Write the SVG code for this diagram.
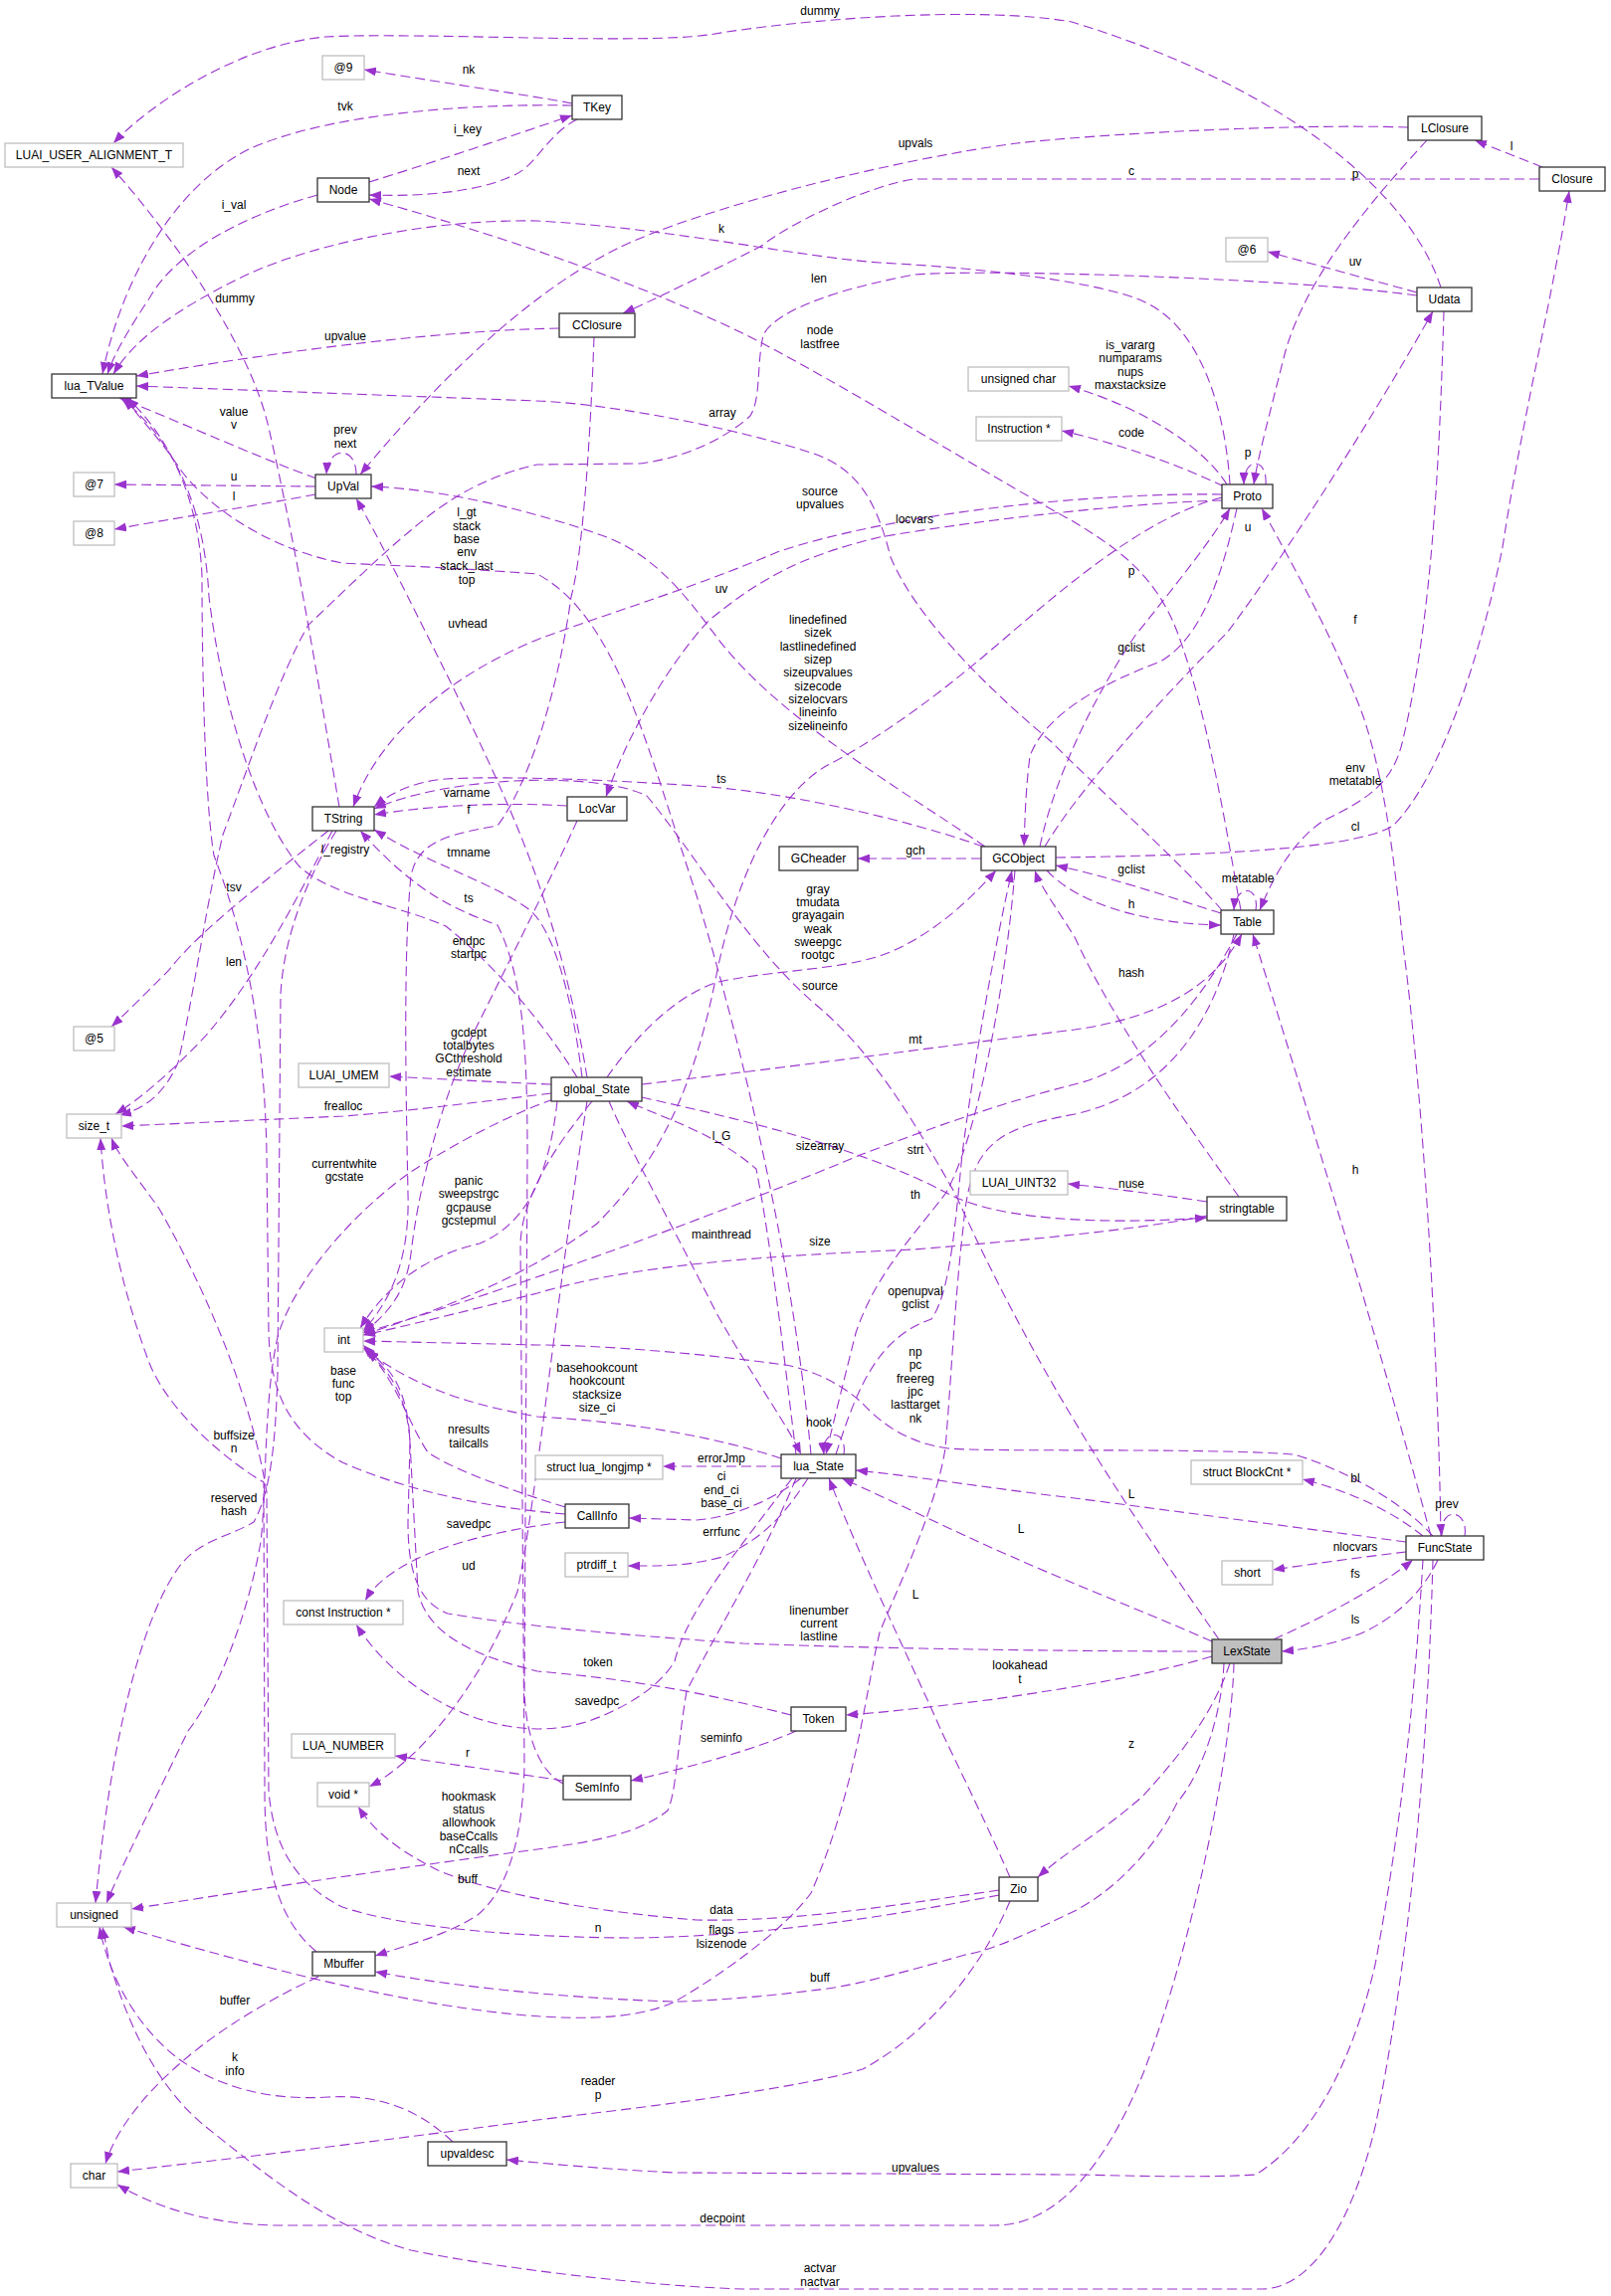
<svg xmlns="http://www.w3.org/2000/svg" width="1619" height="2308" viewBox="0 0 1619 2308">
<style>
.e{fill:none;stroke:#9a32cd;stroke-width:1.1;stroke-dasharray:10,5;marker-end:url(#a)}
.lb{font-family:"Liberation Sans",Arial,sans-serif;font-size:12px;fill:#000;text-anchor:middle}
.d{fill:#fff;stroke:#333;stroke-width:1.3}
.u{fill:#fff;stroke:#bfbfbf;stroke-width:1.3}
.r{fill:#bfbfbf;stroke:#333;stroke-width:1.3}
.t{font-family:"Liberation Sans",Arial,sans-serif;font-size:12px;fill:#000;text-anchor:middle}
</style>
<defs>
<marker id="a" viewBox="0 0 12 9" refX="12" refY="4.5" markerWidth="12" markerHeight="9" markerUnits="userSpaceOnUse" orient="auto"><path d="M0,0L12,4.5L0,9z" fill="#9a32cd"/></marker>
</defs>
<rect width="1619" height="2308" fill="#fff"/>
<g id="edges">
<path class="e" d="M1448,289 C1420,200 1300,90 1077,22 C980,5 800,20 712,35 C640,45 420,32 327,37 C240,45 150,105 114,144"/>
<path class="e" d="M341,811 C322,700 300,560 270,430 C252,350 180,245 112,168"/>
<path class="e" d="M575,104 C540,97 450,84 366,70"/>
<path class="e" d="M575,106 C470,104 330,114 250,150 C170,190 120,290 103,376"/>
<path class="e" d="M371,183 C430,165 510,138 575,116"/>
<path class="e" d="M580,120 C548,136 538,170 512,178 C480,192 430,198 371,196"/>
<path class="e" d="M319,196 C240,218 175,255 150,300 C130,330 115,355 108,376"/>
<path class="e" d="M1247,915 C1235,850 1215,720 1183,635 C1160,575 1120,550 1080,525 C980,470 870,400 764,344 C650,285 480,230 371,200"/>
<path class="e" d="M1236,487 C1232,420 1210,330 1149,303 C1110,285 1000,270 884,264 C800,258 680,230 540,222 C420,220 300,250 240,280 C180,310 135,340 114,376"/>
<path class="e" d="M1228,915 C1180,860 1100,790 1057,746 C990,690 920,620 895,560 C880,500 860,470 815,455 C720,425 600,405 540,403 L137,388"/>
<path class="e" d="M562,330 C450,332 300,350 137,378"/>
<path class="e" d="M318,481 C260,460 190,428 120,400"/>
<path class="e" d="M358,477 C358,448 330,448 328,477"/>
<path class="e" d="M317,489 L115,487"/>
<path class="e" d="M317,497 C260,508 180,520 115,532"/>
<path class="e" d="M1415,128 C1300,124 1100,135 1022,144 C900,160 700,210 620,250 C540,290 450,370 362,477"/>
<path class="e" d="M1547,180 L919,180 C880,185 800,220 764,248 C700,280 660,300 626,315"/>
<path class="e" d="M1550,168 L1482,141"/>
<path class="e" d="M1434,141 C1380,200 1310,280 1290,360 C1275,420 1264,460 1260,487"/>
<path class="e" d="M1424,294 L1274,253"/>
<path class="e" d="M1451,313 C1447,450 1440,620 1410,743 C1400,790 1370,805 1330,825 C1300,845 1280,880 1266,915"/>
<path class="e" d="M1061,862 C1200,860 1360,855 1400,830 C1450,780 1490,650 1510,550 C1530,420 1560,300 1577,192"/>
<path class="e" d="M1052,875 C1080,905 1140,928 1227,930"/>
<path class="e" d="M1227,918 C1170,900 1110,880 1061,870"/>
<path class="e" d="M1262,915 C1266,890 1242,888 1240,915"/>
<path class="e" d="M986,863 L862,863"/>
<path class="e" d="M988,851 C900,820 780,795 700,790 C600,783 500,780 448,783 C420,785 395,795 376,811"/>
<path class="e" d="M570,810 C500,806 430,810 376,819"/>
<path class="e" d="M597,339 C593,450 585,560 574,600 C560,700 530,790 500,830 C440,840 420,850 413,880 C405,960 408,1100 410,1200 C412,1270 390,1310 365,1338"/>
<path class="e" d="M1228,503 C1150,505 1000,520 884,540 C800,560 760,585 712,624 C670,670 630,740 609,801"/>
<path class="e" d="M1228,500 C1150,520 1070,590 1000,650 C930,710 870,750 830,770 C780,800 740,880 720,980 C700,1080 670,1160 600,1230 C520,1290 430,1320 365,1342"/>
<path class="e" d="M1230,489 C1180,465 1120,445 1067,433"/>
<path class="e" d="M1233,487 C1210,450 1150,410 1074,388"/>
<path class="e" d="M1272,487 C1274,460 1250,458 1250,487"/>
<path class="e" d="M1045,851 C1060,780 1100,700 1140,640 C1180,590 1220,540 1236,511"/>
<path class="e" d="M1243,511 C1230,570 1210,640 1166,665 C1100,690 1050,720 1035,760 C1030,800 1030,830 1029,851"/>
<path class="e" d="M1050,851 C1080,800 1150,720 1234,635 C1290,560 1380,420 1440,313"/>
<path class="e" d="M1448,1544 C1445,1350 1430,1100 1410,950 C1400,850 1390,780 1370,720 C1340,640 1300,570 1268,511"/>
<path class="e" d="M1438,1544 C1410,1440 1370,1300 1330,1170 C1300,1070 1275,990 1259,939"/>
<path class="e" d="M1245,1203 C1200,1140 1120,1030 1080,942 C1060,910 1045,890 1040,875"/>
<path class="e" d="M1213,1208 C1160,1200 1120,1195 1073,1190"/>
<path class="e" d="M1213,1222 C1150,1235 1050,1245 919,1256 C780,1262 640,1270 540,1300 C460,1320 400,1335 365,1342"/>
<path class="e" d="M645,1103 C720,1120 860,1150 953,1200 C1000,1225 1100,1232 1213,1224"/>
<path class="e" d="M1243,939 C1210,1000 1160,1070 1080,1090 C1000,1110 920,1140 867,1160 C700,1230 500,1300 365,1340"/>
<path class="e" d="M645,1090 C800,1072 1000,1045 1080,1035 C1170,1022 1220,990 1248,939"/>
<path class="e" d="M1240,939 C1220,1030 1170,1100 1080,1120 C1000,1135 975,1150 968,1234 C960,1300 955,1400 950,1456 C940,1520 900,1600 884,1641 C870,1700 860,1800 815,1903 C780,1950 700,2000 678,2012 C600,2050 400,2020 124,1937"/>
<path class="e" d="M554,1090 C500,1088 450,1085 391,1082"/>
<path class="e" d="M554,1099 C480,1108 400,1118 345,1122 L122,1132"/>
<path class="e" d="M590,1107 C560,1300 540,1500 520,1600 C480,1700 420,1770 371,1796"/>
<path class="e" d="M556,1105 C500,1125 440,1160 413,1178 C360,1215 300,1280 280,1340 C265,1400 268,1500 262,1550 C250,1620 220,1700 189,1740 C160,1800 125,1870 107,1913"/>
<path class="e" d="M560,1107 C552,1180 530,1230 482,1250 C430,1262 390,1290 362,1335"/>
<path class="e" d="M595,1107 C560,1150 525,1200 523,1250 L527,1776 C525,1850 510,1900 480,1925 C450,1945 410,1955 377,1966"/>
<path class="e" d="M610,1083 C640,1040 680,1000 722,987 C780,975 840,975 884,961 C930,945 970,910 1001,875"/>
<path class="e" d="M580,1083 C560,1050 510,980 448,931 C400,910 330,900 300,870 C260,820 225,720 210,600 C205,500 170,440 122,400"/>
<path class="e" d="M585,1083 C575,1000 555,930 530,913 C490,885 430,868 376,834"/>
<path class="e" d="M590,1083 C580,1020 560,940 537,876 C510,800 460,700 430,640 C400,580 380,540 358,501"/>
<path class="e" d="M612,1107 C630,1150 680,1240 720,1320 C760,1390 790,1430 805,1462"/>
<path class="e" d="M800,1462 C790,1380 775,1250 760,1175 C720,1140 670,1125 630,1107"/>
<path class="e" d="M1020,875 C1010,1000 980,1150 950,1200 C920,1240 880,1280 860,1340 C845,1400 835,1440 830,1462"/>
<path class="e" d="M840,1462 C860,1400 880,1345 936,1326 C955,1300 960,1230 967,1160 C980,1060 1000,950 1017,875"/>
<path class="e" d="M815,1462 C800,1300 760,1100 700,900 C650,750 620,620 540,577 C450,570 380,568 344,566 C260,550 200,500 180,470 C160,440 140,420 125,400"/>
<path class="e" d="M848,1462 C852,1436 825,1436 828,1462"/>
<path class="e" d="M785,1466 C720,1445 640,1430 540,1424 C460,1410 410,1390 365,1355"/>
<path class="e" d="M785,1474 L666,1474"/>
<path class="e" d="M805,1486 C780,1505 740,1525 700,1528 L632,1526"/>
<path class="e" d="M812,1486 C790,1520 770,1545 726,1565 C690,1575 660,1574 631,1574"/>
<path class="e" d="M796,1486 C740,1560 690,1620 678,1670 C660,1700 620,1720 592,1730 C500,1760 400,1700 358,1633"/>
<path class="e" d="M800,1486 C770,1560 720,1640 690,1700 C680,1760 680,1800 671,1820 C640,1845 590,1852 540,1859 C420,1875 250,1900 132,1919"/>
<path class="e" d="M568,1522 C480,1515 400,1495 344,1470 C290,1440 272,1400 270,1340 L268,1160 C266,1050 250,950 215,860 C205,800 203,650 203,580 C200,500 170,440 128,400"/>
<path class="e" d="M568,1530 C520,1535 450,1550 413,1570 C390,1582 375,1595 367,1609"/>
<path class="e" d="M568,1515 C520,1500 460,1480 430,1460 C410,1430 400,1390 365,1352"/>
<path class="e" d="M1218,1650 C1150,1620 1080,1593 1022,1567 C970,1545 900,1510 846,1486"/>
<path class="e" d="M1413,1550 C1300,1535 1150,1515 1080,1506 C1000,1497 930,1485 860,1478"/>
<path class="e" d="M1015,1887 C990,1830 960,1770 946,1740 C920,1680 870,1580 833,1486"/>
<path class="e" d="M1280,1648 C1330,1625 1380,1600 1420,1568"/>
<path class="e" d="M1445,1568 C1430,1600 1400,1630 1360,1645 C1330,1655 1310,1658 1288,1660"/>
<path class="e" d="M1430,1544 C1400,1520 1360,1500 1309,1487"/>
<path class="e" d="M1413,1560 C1370,1565 1320,1572 1279,1578"/>
<path class="e" d="M1472,1544 C1476,1516 1446,1514 1449,1544"/>
<path class="e" d="M1440,1544 C1400,1500 1330,1470 1300,1462 C1200,1455 1000,1460 953,1456 C910,1450 885,1430 867,1411 C840,1385 800,1372 781,1371 C700,1360 600,1352 540,1352 L365,1348"/>
<path class="e" d="M1430,1568 C1425,1650 1415,1800 1382,1975 C1360,2070 1320,2150 1262,2186 C1200,2190 1100,2186 1080,2186 L678,2184 C600,2180 540,2174 509,2171"/>
<path class="e" d="M1440,1568 C1435,1750 1420,1950 1382,2138 C1360,2230 1320,2300 1269,2301 L746,2301 C650,2298 500,2280 413,2262 C330,2240 260,2180 207,2138 C160,2100 130,2040 110,1972 L103,1937"/>
<path class="e" d="M1218,1660 C1100,1660 900,1658 747,1652 C650,1645 540,1637 450,1622 C420,1610 410,1580 410,1530 L412,1450 C410,1410 395,1380 368,1358"/>
<path class="e" d="M1218,1665 C1150,1685 1080,1696 1000,1708 C920,1718 880,1722 850,1724"/>
<path class="e" d="M1236,1672 C1220,1720 1190,1760 1149,1805 C1110,1840 1070,1862 1043,1887"/>
<path class="e" d="M1230,1672 C1228,1720 1210,1780 1183,1812 C1160,1860 1120,1900 1080,1921 C1040,1940 1000,1960 970,1965 C900,1985 850,1998 815,2001 C760,2008 700,2012 678,2012 C600,2010 470,2000 377,1982"/>
<path class="e" d="M1240,1672 C1238,1760 1200,1950 1149,2084 C1110,2180 1060,2237 1000,2237 L275,2237 C200,2235 150,2215 118,2196"/>
<path class="e" d="M1225,1648 C1150,1540 1050,1400 960,1200 C920,1130 880,1060 820,1010 C750,950 700,860 650,800 C600,775 450,780 376,813"/>
<path class="e" d="M795,1724 C740,1710 660,1690 540,1680 C480,1665 430,1645 420,1600 L412,1450 C410,1400 395,1375 368,1358"/>
<path class="e" d="M800,1740 C760,1758 700,1775 634,1790"/>
<path class="e" d="M566,1790 C520,1783 450,1773 397,1765"/>
<path class="e" d="M566,1793 C540,1780 528,1740 527,1700 L530,1160 C530,1050 525,980 500,930 C460,915 420,900 362,835"/>
<path class="e" d="M1004,1900 C900,1915 800,1932 700,1930 C600,1922 500,1905 440,1880 C400,1860 375,1840 360,1816"/>
<path class="e" d="M1004,1905 C900,1925 780,1945 643,1948 C540,1948 413,1940 344,1917 C300,1895 275,1860 270,1800 L268,1500 C255,1420 220,1320 160,1215 C135,1180 118,1160 112,1144"/>
<path class="e" d="M1015,1911 C990,1970 940,2040 867,2080 C800,2100 650,2118 540,2131 C400,2150 250,2168 118,2183"/>
<path class="e" d="M318,1962 C280,1930 266,1880 266,1800 L265,1490 C230,1470 170,1420 150,1370 C120,1290 105,1210 101,1144"/>
<path class="e" d="M320,1987 C270,2010 220,2040 180,2075 C140,2110 115,2145 106,2175"/>
<path class="e" d="M455,2153 C420,2120 380,2105 330,2108 C270,2112 220,2098 180,2070 C140,2040 110,1990 100,1937"/>
<path class="e" d="M330,835 C280,875 200,935 170,975 C145,1000 125,1020 112,1032"/>
<path class="e" d="M334,835 C300,900 260,980 206,1042 C170,1080 140,1105 116,1120"/>
<path class="e" d="M338,835 C310,880 285,940 282,1000 L279,1380 C277,1450 272,1500 255,1530 C230,1545 200,1548 180,1575 C140,1630 110,1760 96,1913"/>
<path class="e" d="M1424,297 C1300,280 1000,270 919,276 C850,289 780,310 767,337 C760,370 765,400 754,418 C730,440 690,460 643,466 L540,467 C480,480 440,510 413,533 C380,560 340,600 310,628 C280,680 250,770 224,839 C205,920 195,1000 179,1068 C165,1100 145,1115 120,1121"/>
<path class="e" d="M580,825 C560,870 520,950 480,1030 C440,1110 420,1200 413,1260 C408,1300 390,1320 365,1340"/>
<path class="e" d="M1228,497 C1100,495 900,515 781,555 C700,590 600,620 540,643 C450,680 380,740 355,811"/>
<path class="e" d="M990,851 C900,790 780,720 720,640 C690,600 660,560 610,540 C540,515 450,492 373,489"/>
<g class="lb">
<text x="824" y="15">dummy</text>
<text x="236" y="304">dummy</text>
<text x="471" y="74">nk</text>
<text x="347" y="111">tvk</text>
<text x="470" y="134">i_key</text>
<text x="471" y="176">next</text>
<text x="235" y="210">i_val</text>
<text x="824" y="336">node</text><text x="824" y="350">lastfree</text>
<text x="725" y="234">k</text>
<text x="726" y="419">array</text>
<text x="347" y="342">upvalue</text>
<text x="235" y="418">value</text><text x="235" y="431">v</text>
<text x="347" y="436">prev</text><text x="347" y="450">next</text>
<text x="235" y="483">u</text>
<text x="235" y="503">l</text>
<text x="920" y="148">upvals</text>
<text x="1137" y="176">c</text>
<text x="1519" y="151">l</text>
<text x="1362" y="179">p</text>
<text x="1362" y="267">uv</text>
<text x="1362" y="776">env</text><text x="1362" y="789">metatable</text>
<text x="1362" y="835">cl</text>
<text x="1137" y="913">h</text>
<text x="1137" y="878">gclist</text>
<text x="1254" y="887">metatable</text>
<text x="920" y="859">gch</text>
<text x="725" y="787">ts</text>
<text x="469" y="801">varname</text>
<text x="471" y="818">f</text>
<text x="919" y="526">locvars</text>
<text x="822" y="627">linedefined</text><text x="822" y="640">sizek</text><text x="822" y="654">lastlinedefined</text><text x="822" y="667">sizep</text><text x="822" y="680">sizeupvalues</text><text x="822" y="694">sizecode</text><text x="822" y="707">sizelocvars</text><text x="822" y="720">lineinfo</text><text x="822" y="734">sizelineinfo</text>
<text x="1137" y="439">code</text>
<text x="1136" y="351">is_vararg</text><text x="1136" y="364">numparams</text><text x="1136" y="378">nups</text><text x="1136" y="391">maxstacksize</text>
<text x="1254" y="459">p</text>
<text x="1137" y="578">p</text>
<text x="1137" y="655">gclist</text>
<text x="1254" y="534">u</text>
<text x="1362" y="627">f</text>
<text x="1362" y="1180">h</text>
<text x="1137" y="982">hash</text>
<text x="1137" y="1194">nuse</text>
<text x="824" y="1252">size</text>
<text x="920" y="1160">strt</text>
<text x="824" y="1156">sizearray</text>
<text x="920" y="1049">mt</text>
<text x="725" y="1944">flags</text><text x="725" y="1958">lsizenode</text>
<text x="471" y="1042">gcdept</text><text x="471" y="1055">totalbytes</text><text x="471" y="1068">GCthreshold</text><text x="471" y="1082">estimate</text>
<text x="345" y="1116">frealloc</text>
<text x="471" y="1578">ud</text>
<text x="346" y="1174">currentwhite</text><text x="346" y="1187">gcstate</text>
<text x="471" y="1191">panic</text><text x="471" y="1204">sweepstrgc</text><text x="471" y="1218">gcpause</text><text x="471" y="1231">gcstepmul</text>
<text x="470" y="1893">buff</text>
<text x="822" y="898">gray</text><text x="822" y="911">tmudata</text><text x="822" y="924">grayagain</text><text x="822" y="938">weak</text><text x="822" y="951">sweepgc</text><text x="822" y="964">rootgc</text>
<text x="347" y="858">l_registry</text>
<text x="471" y="861">tmname</text>
<text x="470" y="631">uvhead</text>
<text x="725" y="1245">mainthread</text>
<text x="725" y="1146">l_G</text>
<text x="920" y="1205">th</text>
<text x="920" y="1302">openupval</text><text x="920" y="1315">gclist</text>
<text x="469" y="519">l_gt</text><text x="469" y="533">stack</text><text x="469" y="546">base</text><text x="469" y="559">env</text><text x="469" y="573">stack_last</text><text x="469" y="587">top</text>
<text x="823" y="1434">hook</text>
<text x="600" y="1379">basehookcount</text><text x="600" y="1392">hookcount</text><text x="600" y="1406">stacksize</text><text x="600" y="1419">size_ci</text>
<text x="725" y="1470">errorJmp</text>
<text x="725" y="1488">ci</text><text x="725" y="1502">end_ci</text><text x="725" y="1515">base_ci</text>
<text x="725" y="1544">errfunc</text>
<text x="600" y="1714">savedpc</text>
<text x="471" y="1810">hookmask</text><text x="471" y="1823">status</text><text x="471" y="1836">allowhook</text><text x="471" y="1850">baseCcalls</text><text x="471" y="1863">nCcalls</text>
<text x="345" y="1382">base</text><text x="345" y="1395">func</text><text x="345" y="1408">top</text>
<text x="471" y="1536">savedpc</text>
<text x="471" y="1441">nresults</text><text x="471" y="1455">tailcalls</text>
<text x="1026" y="1541">L</text>
<text x="1137" y="1506">L</text>
<text x="920" y="1607">L</text>
<text x="1362" y="1586">fs</text>
<text x="1362" y="1632">ls</text>
<text x="1362" y="1490">bl</text>
<text x="1362" y="1559">nlocvars</text>
<text x="1454" y="1516">prev</text>
<text x="920" y="1363">np</text><text x="920" y="1376">pc</text><text x="920" y="1390">freereg</text><text x="920" y="1403">jpc</text><text x="920" y="1416">lasttarget</text><text x="920" y="1430">nk</text>
<text x="920" y="2183">upvalues</text>
<text x="824" y="2284">actvar</text><text x="824" y="2298">nactvar</text>
<text x="823" y="1623">linenumber</text><text x="823" y="1636">current</text><text x="823" y="1649">lastline</text>
<text x="1025" y="1678">lookahead</text><text x="1025" y="1692">t</text>
<text x="1137" y="1757">z</text>
<text x="824" y="1992">buff</text>
<text x="726" y="2234">decpoint</text>
<text x="824" y="995">source</text>
<text x="601" y="1675">token</text>
<text x="725" y="1751">seminfo</text>
<text x="470" y="1766">r</text>
<text x="471" y="907">ts</text>
<text x="725" y="1924">data</text>
<text x="601" y="1942">n</text>
<text x="601" y="2096">reader</text><text x="601" y="2110">p</text>
<text x="235" y="1447">buffsize</text><text x="235" y="1460">n</text>
<text x="236" y="2015">buffer</text>
<text x="236" y="2072">k</text><text x="236" y="2086">info</text>
<text x="235" y="896">tsv</text>
<text x="235" y="971">len</text>
<text x="235" y="1510">reserved</text><text x="235" y="1523">hash</text>
<text x="823" y="284">len</text>
<text x="471" y="950">endpc</text><text x="471" y="963">startpc</text>
<text x="824" y="498">source</text><text x="824" y="511">upvalues</text>
<text x="725" y="596">uv</text>
</g>
</g>
<g id="n_LexState"><rect class="r" x="1218" y="1648" width="70" height="24"/><text class="t" x="1253" y="1664">LexState</text></g>
<g id="n_LUAI_USER_ALIGNMENT_T"><rect class="u" x="5" y="144" width="179" height="24"/><text class="t" x="94.5" y="160">LUAI_USER_ALIGNMENT_T</text></g>
<g id="n_at9"><rect class="u" x="324" y="56" width="42" height="24"/><text class="t" x="345" y="72">@9</text></g>
<g id="n_TKey"><rect class="d" x="575" y="96" width="50" height="24"/><text class="t" x="600" y="112">TKey</text></g>
<g id="n_Node"><rect class="d" x="319" y="179" width="52" height="24"/><text class="t" x="345" y="195">Node</text></g>
<g id="n_lua_TValue"><rect class="d" x="52" y="376" width="85" height="24"/><text class="t" x="94.5" y="392">lua_TValue</text></g>
<g id="n_at7"><rect class="u" x="74" y="475" width="41" height="24"/><text class="t" x="94.5" y="491">@7</text></g>
<g id="n_at8"><rect class="u" x="74" y="524" width="41" height="24"/><text class="t" x="94.5" y="540">@8</text></g>
<g id="n_UpVal"><rect class="d" x="317" y="477" width="56" height="24"/><text class="t" x="345" y="493">UpVal</text></g>
<g id="n_CClosure"><rect class="d" x="562" y="315" width="76" height="24"/><text class="t" x="600" y="331">CClosure</text></g>
<g id="n_unsigned_char"><rect class="u" x="973" y="369" width="101" height="24"/><text class="t" x="1023.5" y="385">unsigned char</text></g>
<g id="n_Instruction"><rect class="u" x="981" y="419" width="86" height="24"/><text class="t" x="1024" y="435">Instruction *</text></g>
<g id="n_LClosure"><rect class="d" x="1415" y="117" width="74" height="24"/><text class="t" x="1452" y="133">LClosure</text></g>
<g id="n_Closure"><rect class="d" x="1547" y="168" width="66" height="24"/><text class="t" x="1580" y="184">Closure</text></g>
<g id="n_at6"><rect class="u" x="1232" y="239" width="42" height="24"/><text class="t" x="1253" y="255">@6</text></g>
<g id="n_Udata"><rect class="d" x="1424" y="289" width="55" height="24"/><text class="t" x="1451.5" y="305">Udata</text></g>
<g id="n_Proto"><rect class="d" x="1228" y="487" width="51" height="24"/><text class="t" x="1253.5" y="503">Proto</text></g>
<g id="n_TString"><rect class="d" x="314" y="811" width="62" height="24"/><text class="t" x="345" y="827">TString</text></g>
<g id="n_at5"><rect class="u" x="74" y="1032" width="41" height="24"/><text class="t" x="94.5" y="1048">@5</text></g>
<g id="n_LUAI_UMEM"><rect class="u" x="300" y="1069" width="91" height="24"/><text class="t" x="345.5" y="1085">LUAI_UMEM</text></g>
<g id="n_size_t"><rect class="u" x="67" y="1120" width="55" height="24"/><text class="t" x="94.5" y="1136">size_t</text></g>
<g id="n_LocVar"><rect class="d" x="570" y="801" width="60" height="24"/><text class="t" x="600" y="817">LocVar</text></g>
<g id="n_GCheader"><rect class="d" x="783" y="851" width="79" height="24"/><text class="t" x="822.5" y="867">GCheader</text></g>
<g id="n_GCObject"><rect class="d" x="986" y="851" width="75" height="24"/><text class="t" x="1023.5" y="867">GCObject</text></g>
<g id="n_global_State"><rect class="d" x="554" y="1083" width="91" height="24"/><text class="t" x="599.5" y="1099">global_State</text></g>
<g id="n_Table"><rect class="d" x="1227" y="915" width="53" height="24"/><text class="t" x="1253.5" y="931">Table</text></g>
<g id="n_int"><rect class="u" x="326" y="1335" width="39" height="24"/><text class="t" x="345.5" y="1351">int</text></g>
<g id="n_const_Instruction"><rect class="u" x="285" y="1609" width="120" height="24"/><text class="t" x="345" y="1625">const Instruction *</text></g>
<g id="n_LUAI_UINT32"><rect class="u" x="975" y="1177" width="98" height="24"/><text class="t" x="1024" y="1193">LUAI_UINT32</text></g>
<g id="n_lua_State"><rect class="d" x="785" y="1462" width="75" height="24"/><text class="t" x="822.5" y="1478">lua_State</text></g>
<g id="n_lua_longjmp"><rect class="u" x="538" y="1463" width="128" height="24"/><text class="t" x="602" y="1479">struct lua_longjmp *</text></g>
<g id="n_CallInfo"><rect class="d" x="568" y="1512" width="64" height="24"/><text class="t" x="600" y="1528">CallInfo</text></g>
<g id="n_ptrdiff_t"><rect class="u" x="568" y="1561" width="63" height="24"/><text class="t" x="599.5" y="1577">ptrdiff_t</text></g>
<g id="n_Token"><rect class="d" x="795" y="1716" width="55" height="24"/><text class="t" x="822.5" y="1732">Token</text></g>
<g id="n_stringtable"><rect class="d" x="1213" y="1203" width="80" height="24"/><text class="t" x="1253" y="1219">stringtable</text></g>
<g id="n_BlockCnt"><rect class="u" x="1197" y="1468" width="112" height="24"/><text class="t" x="1253" y="1484">struct BlockCnt *</text></g>
<g id="n_FuncState"><rect class="d" x="1413" y="1544" width="78" height="24"/><text class="t" x="1452" y="1560">FuncState</text></g>
<g id="n_short"><rect class="u" x="1228" y="1569" width="51" height="24"/><text class="t" x="1253.5" y="1585">short</text></g>
<g id="n_LUA_NUMBER"><rect class="u" x="293" y="1743" width="104" height="24"/><text class="t" x="345" y="1759">LUA_NUMBER</text></g>
<g id="n_void"><rect class="u" x="319" y="1792" width="52" height="24"/><text class="t" x="345" y="1808">void *</text></g>
<g id="n_unsigned"><rect class="u" x="57" y="1913" width="75" height="24"/><text class="t" x="94.5" y="1929">unsigned</text></g>
<g id="n_Mbuffer"><rect class="d" x="314" y="1962" width="63" height="24"/><text class="t" x="345.5" y="1978">Mbuffer</text></g>
<g id="n_char"><rect class="u" x="71" y="2175" width="47" height="24"/><text class="t" x="94.5" y="2191">char</text></g>
<g id="n_upvaldesc"><rect class="d" x="430" y="2153" width="79" height="24"/><text class="t" x="469.5" y="2169">upvaldesc</text></g>
<g id="n_SemInfo"><rect class="d" x="566" y="1785" width="68" height="24"/><text class="t" x="600" y="1801">SemInfo</text></g>
<g id="n_Zio"><rect class="d" x="1004" y="1887" width="39" height="24"/><text class="t" x="1023.5" y="1903">Zio</text></g>
</svg>
